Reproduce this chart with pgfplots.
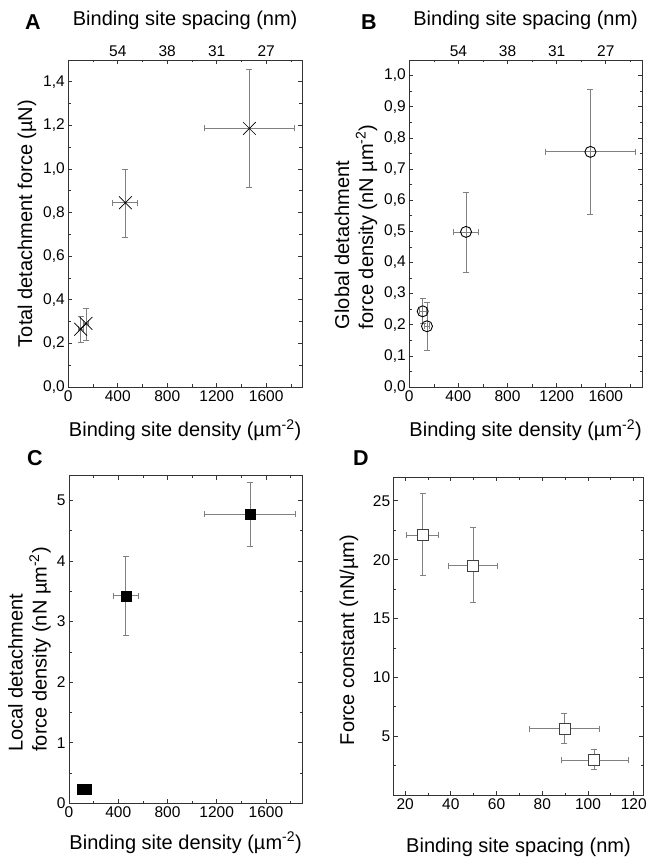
\documentclass[border=0pt]{standalone}
\usepackage{fontspec}
\setmainfont{Liberation Sans}
\usepackage{pgfplots}
\pgfplotsset{compat=1.18}

\pgfplotsset{
  panel/.style={
    scale only axis, anchor=south west, clip=false,
    axis line style={black!80, line width=0.8pt},
    tick style={black!80, line width=0.7pt},
    major tick length=4pt, minor tick length=2.5pt,
    tick label style={font=\fontsize{15.5}{18}\selectfont},
    label style={font=\fontsize{20}{24}\selectfont},
    /pgf/number format/assume math mode=true,
    /pgf/number format/use comma,
    /pgf/number format/set thousands separator={},
  },
  ebar/.style={
    error bars/.cd, x dir=both, y dir=both, x explicit, y explicit,
    error bar style={black!50, line width=0.8pt},
    error mark options={rotate=90, black!50, line width=0.8pt, mark size=3pt},
  },
  topaxis/.style={
    scale only axis, anchor=south west,
    axis y line=none, axis x line*=top,
    x axis line style={draw=none},
    xtick={400,800,1200,1600}, xticklabels={54,38,31,27},
    xtick style={draw=none},
    tick label style={font=\fontsize{15.5}{18}\selectfont},
    label style={font=\fontsize{20}{24}\selectfont},
    /pgf/number format/assume math mode=true,
    xlabel={Binding site spacing (nm)},
    xlabel style={at={(axis description cs:0.5,1.122)}, anchor=center},
    ymin=0, ymax=1,
  },
}
\tikzset{letter/.style={font=\bfseries\fontsize{21.5}{26}\selectfont}}
\newcommand{\dens}{Binding site density (µm\textsuperscript{-2})}

\begin{document}
\begin{tikzpicture}
\path[use as bounding box] (0,0) rectangle (653pt,857pt);

% A
\begin{axis}[panel, at={(68.3pt,470pt)}, width=233.7pt, height=327pt,
  xmin=0, xmax=1890, ymin=0, ymax=1.5,
  xtick={0,400,800,1200,1600}, minor xtick={200,600,1000,1400,1800},
  ytick={0,0.2,...,1.4}, minor ytick={0.1,0.3,...,1.5},
  yticklabel style={/pgf/number format/.cd, fixed, precision=1, zerofill, use comma},
  xlabel={\dens}, xlabel style={at={(axis description cs:0.5,-0.1315)}, anchor=center},
  ylabel={Total detachment force (µN)},
  ylabel style={at={(axis description cs:-0.177,0.5)}, anchor=center}]
\addplot[only marks, mark=x, mark size=9pt, mark options={black, line width=0.7pt}, ebar]
coordinates {
  (100,0.265) += (20,0.057) -= (20,0.062)
  (143,0.292) += (20,0.069) -= (20,0.076)
  (462,0.845) += (97,0.153) -= (103,0.160)
  (1465,1.186) += (367,0.271) -= (365,0.271)
};
\end{axis}
\begin{axis}[topaxis, at={(68.3pt,470pt)}, width=233.7pt, height=327pt, xmin=0, xmax=1890]
\end{axis}
\node[letter] at (33pt,835pt) {A};

% B
\begin{axis}[panel, at={(409.3pt,470pt)}, width=232.7pt, height=327pt,
  xmin=0, xmax=1895, ymin=0, ymax=1.05,
  xtick={0,400,800,1200,1600}, minor xtick={200,600,1000,1400,1800},
  ytick={0,0.1,...,1.0}, minor ytick={0.05,0.15,...,1.05},
  yticklabel style={/pgf/number format/.cd, fixed, precision=1, zerofill, use comma},
  xlabel={\dens}, xlabel style={at={(axis description cs:0.5,-0.1315)}, anchor=center},
  ylabel={Global detachment\\force density (nN µm\textsuperscript{-2})},
  ylabel style={at={(axis description cs:-0.229,0.49)}, anchor=center, align=left}]
\addplot[only marks, mark=o, mark size=5.5pt, mark options={black, fill=white, line width=0.9pt}, ebar]
coordinates {
  (109,0.243) += (30,0.043) -= (30,0.040)
  (144,0.195) += (20,0.078) -= (20,0.078)
  (462,0.498) += (100,0.128) -= (103,0.129)
  (1475,0.755) += (370,0.199) -= (370,0.202)
};
\end{axis}
\begin{axis}[topaxis, at={(409.3pt,470pt)}, width=232.7pt, height=327pt, xmin=0, xmax=1895]
\end{axis}
\node[letter] at (369pt,835pt) {B};

% C
\begin{axis}[panel, at={(69pt,53.7pt)}, width=233.3pt, height=327.6pt,
  xmin=0, xmax=1895, ymin=0, ymax=5.41,
  xtick={0,400,800,1200,1600}, minor xtick={200,600,1000,1400,1800},
  ytick={0,1,...,5}, minor ytick={0.5,1.5,...,5.5},
  xlabel={\dens}, xlabel style={at={(axis description cs:0.5,-0.121)}, anchor=center},
  ylabel={Local detachment\\force density (nN µm\textsuperscript{-2})},
  ylabel style={at={(axis description cs:-0.169,0.47)}, anchor=center, align=left}]
\addplot[only marks, mark=square*, mark size=5pt, mark options={black}, ebar]
coordinates {
  (105,0.23) += (15,0.02) -= (15,0.02)
  (140,0.24) += (15,0.02) -= (15,0.02)
  (461,3.425) += (100,0.65) -= (100,0.65)
  (1470,4.77) += (370,0.53) -= (372,0.535)
};
\end{axis}
\node[letter] at (35pt,399pt) {C};

% D
\begin{axis}[panel, at={(393.7pt,62pt)}, width=249.6pt, height=317.7pt,
  xmin=15, xmax=124.2, ymin=0, ymax=27,
  xtick={20,40,...,120}, minor xtick={30,50,...,110},
  ytick={5,10,...,25}, minor ytick={2.5,7.5,...,22.5},
  xlabel={Binding site spacing (nm)}, xlabel style={at={(axis description cs:0.5,-0.164)}, anchor=center},
  ylabel={Force constant (nN/µm)},
  ylabel style={at={(axis description cs:-0.179,0.488)}, anchor=center}]
\addplot[only marks, mark=square*, mark size=5.5pt, mark options={draw=black!75, fill=white, line width=0.8pt}, ebar]
coordinates {
  (27.7,22.1) += (7.0,3.5) -= (7.0,3.4)
  (49.7,19.5) += (10.8,3.2) -= (10.6,3.1)
  (89.7,5.65) += (15.1,1.27) -= (15.3,1.27)
  (102.8,2.96) += (14.7,0.9) -= (14.4,0.76)
};
\end{axis}
\node[letter] at (361pt,399pt) {D};
\end{tikzpicture}
\end{document}
